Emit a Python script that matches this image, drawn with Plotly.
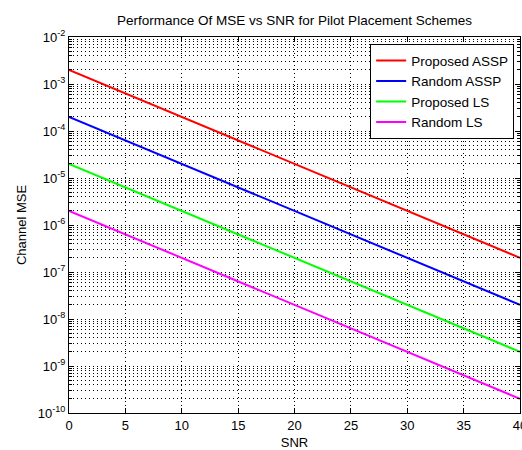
import plotly.graph_objects as go

snr = [0, 5, 10, 15, 20, 25, 30, 35, 40]
proposed_assp = [2e-3, 6.3e-4, 2e-4, 6.3e-5, 2e-5, 6.3e-6, 2e-6, 6.3e-7, 2e-7]
random_assp = [2e-4, 6.3e-5, 2e-5, 6.3e-6, 2e-6, 6.3e-7, 2e-7, 6.3e-8, 2e-8]
proposed_ls = [2e-5, 6.3e-6, 2e-6, 6.3e-7, 2e-7, 6.3e-8, 2e-8, 6.3e-9, 2e-9]
random_ls = [2e-6, 6.3e-7, 2e-7, 6.3e-8, 2e-8, 6.3e-9, 2e-9, 6.3e-10, 2e-10]

series_names = ["Proposed ASSP", "Random ASSP", "Proposed LS", "Random LS"]
series_colors = ["#ff0000", "#0000ff", "#00ff00", "#ff00ff"]
series_values = [proposed_assp, random_assp, proposed_ls, random_ls]

y_exps = [-10, -9, -8, -7, -6, -5, -4, -3, -2]
x_ticks = [0, 5, 10, 15, 20, 25, 30, 35, 40]

FONT = "Liberation Sans, Arial, sans-serif"

fig = go.Figure()
for name, color, vals in zip(series_names, series_colors, series_values):
    fig.add_trace(go.Scatter(x=snr, y=vals, mode="lines", name=name,
                             line=dict(color=color, width=2)))

minor_vals = [m * 10 ** e for e in y_exps[:-1] for m in range(2, 10)]

fig.update_layout(
    width=522, height=450,
    margin=dict(l=69, r=2, t=37, b=37, autoexpand=False),
    paper_bgcolor="white", plot_bgcolor="white",
    font=dict(family=FONT, size=13, color="black"),
    title=dict(text="Performance Of MSE vs SNR for Pilot Placement Schemes",
               xref="paper", x=0.5, xanchor="center", y=1 - 20 / 450, yanchor="middle",
               font=dict(size=13.5, family=FONT, color="black")),
    legend=dict(x=0.987, xanchor="right", y=0.981, yanchor="top",
                bgcolor="white", bordercolor="black", borderwidth=1,
                font=dict(size=13.5, family=FONT, color="black"),
                tracegroupgap=0),
    showlegend=True,
)

fig.update_xaxes(
    range=[0, 40], tickvals=x_ticks, ticktext=[str(v) for v in x_ticks],
    ticklabeloverflow="allow", automargin=False,
    showline=True, linecolor="black", linewidth=1, mirror="allticks",
    ticks="inside", ticklen=5, tickcolor="black",
    showgrid=True, gridcolor="black", gridwidth=1, griddash="1px,3px",
    zeroline=False,
    title=dict(text="SNR", standoff=6, font=dict(size=13)),
)
fig.update_yaxes(
    type="log", range=[-10, -2], automargin=False,
    tickvals=[10 ** e for e in y_exps],
    ticktext=["10<sup>%d</sup>" % e for e in y_exps],
    showline=True, linecolor="black", linewidth=1, mirror="allticks",
    ticks="inside", ticklen=5, tickcolor="black",
    showgrid=True, gridcolor="black", gridwidth=1, griddash="1px,3px",
    minor=dict(tickvals=minor_vals, ticks="inside", ticklen=3, tickcolor="black",
               showgrid=True, gridcolor="black", gridwidth=1, griddash="1px,3px"),
    zeroline=False,
    title=dict(text="Channel MSE", standoff=8, font=dict(size=13)),
)

fig.write_html("out.html")
